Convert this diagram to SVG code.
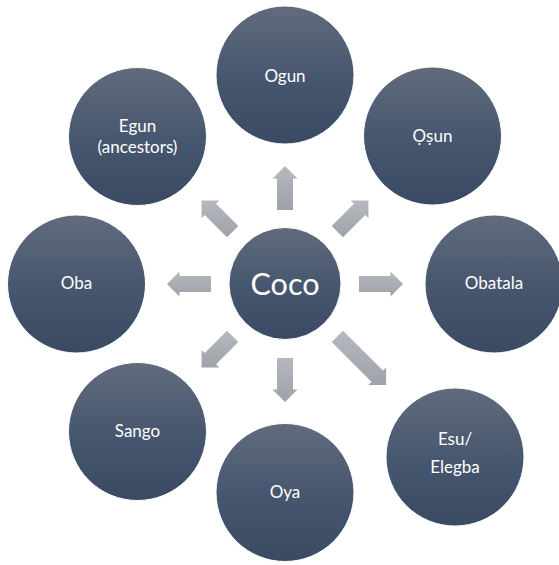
<svg xmlns="http://www.w3.org/2000/svg" width="559" height="565" viewBox="0 0 559 565">
<defs>
<linearGradient id="gNode" x1="0" y1="0" x2="0" y2="1">
<stop offset="0" stop-color="#616b7c"/>
<stop offset="0.5" stop-color="#485770"/>
<stop offset="1" stop-color="#3b4a63"/>
</linearGradient>
<linearGradient id="gArrow" x1="0" y1="0" x2="0" y2="1">
<stop offset="0" stop-color="#b5b8bf"/>
<stop offset="1" stop-color="#9fa2a9"/>
</linearGradient>
</defs>
<style>
.node{fill:url(#gNode);stroke:#ffffff;stroke-width:1}
.lbl{font-family:Lato,"Liberation Sans",sans-serif;font-size:17px;fill:#ffffff;text-anchor:middle}
.big{font-size:30.5px}
.arrow{fill:url(#gArrow)}
</style>
<rect width="559" height="565" fill="#ffffff"/>
<g id="connectors">
<polygon class="arrow" points="285,210 277,210 277,178.5 272.5,178.5 285,166 297.5,178.5 293,178.5 293,210"/>
<polygon class="arrow" points="342.99,237.32 365.26,215.06 368.44,218.24 368.44,200.56 350.76,200.56 353.94,203.74 331.67,226.01"/>
<polygon class="arrow" points="359,276 390.5,276 390.5,271.5 403,284 390.5,296.5 390.5,292 359,292"/>
<polygon class="arrow" points="342.99,330.68 382.94,370.62 386.12,367.44 386.12,385.12 368.44,385.12 371.62,381.94 331.67,341.99"/>
<polygon class="arrow" points="277,358 293,358 293,389.5 297.5,389.5 285,402 272.5,389.5 277,389.5"/>
<polygon class="arrow" points="238.33,341.99 216.06,364.26 219.24,367.44 201.56,367.44 201.56,349.76 204.74,352.94 227.01,330.68"/>
<polygon class="arrow" points="211,276 179.5,276 179.5,271.5 167,284 179.5,296.5 179.5,292 211,292"/>
<polygon class="arrow" points="227.01,237.32 204.74,215.06 201.56,218.24 201.56,200.56 219.24,200.56 216.06,203.74 238.33,226.01"/>
</g>
<g id="coco"><circle class="node" cx="285" cy="283.5" r="56"/><text class="lbl big" x="285" y="295">Coco</text></g>
<g id="ogun"><circle class="node" cx="285" cy="75" r="69"/><text class="lbl" x="285" y="81.5">Ogun</text></g>
<g id="osun"><circle class="node" cx="432.5" cy="136" r="69"/><text class="lbl" x="432.5" y="142">Ọṣun</text></g>
<g id="obatala"><circle class="node" cx="494" cy="284" r="69"/><text class="lbl" x="494" y="289">Obatala</text></g>
<g id="esu"><circle class="node" cx="455" cy="457" r="69"/><text class="lbl" x="455" y="445">Esu/</text><text class="lbl" x="455" y="472.5">Elegba</text></g>
<g id="oya"><circle class="node" cx="285" cy="492.5" r="69"/><text class="lbl" x="285" y="498">Oya</text></g>
<g id="sango"><circle class="node" cx="137.5" cy="431.5" r="69"/><text class="lbl" x="137.5" y="437">Sango</text></g>
<g id="oba"><circle class="node" cx="76.5" cy="284" r="69"/><text class="lbl" x="76.5" y="289">Oba</text></g>
<g id="egun"><circle class="node" cx="137.5" cy="136.5" r="69"/><text class="lbl" x="137.5" y="131.5">Egun</text><text class="lbl" x="137.5" y="152.5">(ancestors)</text></g>
</svg>
